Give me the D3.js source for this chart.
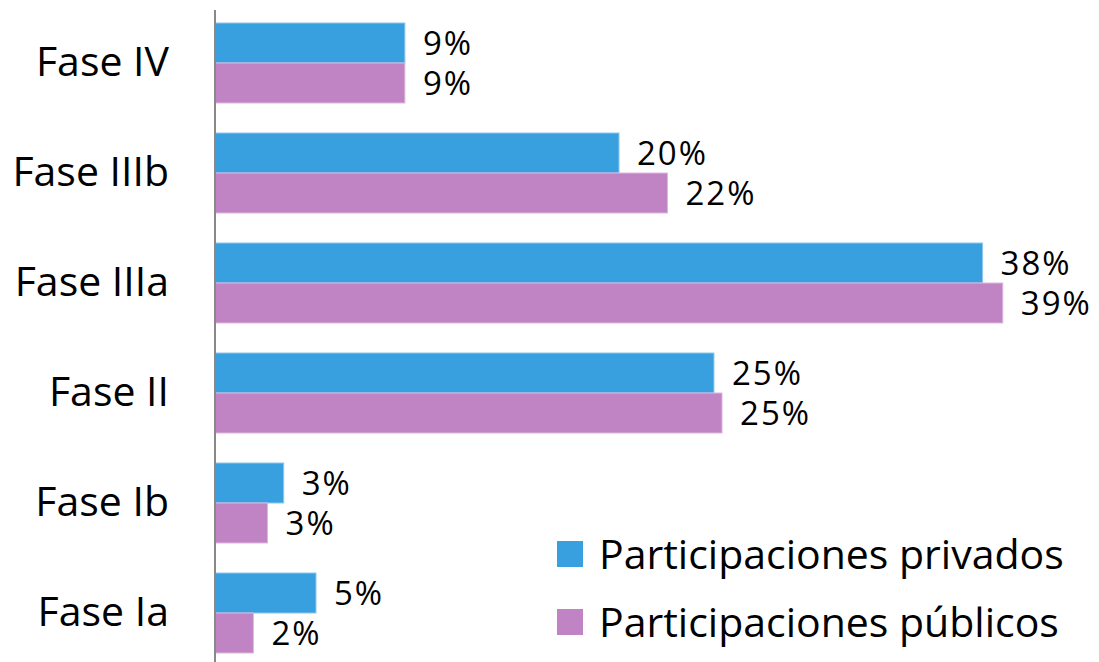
<!DOCTYPE html>
<html>
<head>
<meta charset="utf-8">
<script src="https://cdn.jsdelivr.net/npm/d3@7"></script>
<style>
  body { margin: 0; background: #fff; }
  text { font-family: "Open Sans", sans-serif; fill: #000; }
</style>
</head>
<body>
<div id="chart-area"></div>
<script>
const canvas_width = 1099;
const canvas_height = 662;

const categories = ['Fase IV', 'Fase IIIb', 'Fase IIIa', 'Fase II', 'Fase Ib', 'Fase Ia'];
const series_names = ['Participaciones privados', 'Participaciones públicos'];
const privados = [0.094, 0.200, 0.380, 0.247, 0.034, 0.050];
const publicos = [0.094, 0.224, 0.390, 0.251, 0.026, 0.019];
const colors = ['#38a0de', '#c084c4'];

const x0 = 215;

let svg = d3.select('#chart-area').append('svg')
    .attr('width', canvas_width)
    .attr('height', canvas_height);

let x = d3.scaleLinear()
    .domain([0, 0.4])
    .range([x0, x0 + 808]);

let y = d3.scaleBand()
    .domain(categories)
    .range([8, 668])
    .paddingInner(30 / 110)
    .paddingOuter(15 / 110);

let ySub = d3.scaleBand()
    .domain([0, 1])
    .range([0, y.bandwidth()]);

let rows = categories.map((c, i) => ({ cat: c, values: [privados[i], publicos[i]] }));

let groups = svg.selectAll('g.row').data(rows).enter().append('g')
    .attr('class', 'row')
    .attr('transform', (d) => `translate(0, ${y(d.cat)})`);

groups.selectAll('rect').data((d) => d.values).enter().append('rect')
    .attr('x', x(0))
    .attr('y', (d, i) => ySub(i))
    .attr('width', (d) => x(d) - x(0))
    .attr('height', ySub.bandwidth())
    .attr('fill', (d, i) => colors[i])
    .attr('stroke', (d, i) => i === 0 ? '#8cc6ee' : '#dcb8de')
    .attr('stroke-width', 1);

groups.selectAll('text.value').data((d) => d.values).enter().append('text')
    .attr('class', 'value')
    .attr('x', (d) => x(d) + 18)
    .attr('y', (d, i) => ySub(i) + ySub.bandwidth() / 2)
    .attr('dy', '0.36em')
    .attr('font-size', '33px')
    .attr('letter-spacing', '2px')
    .text((d) => `${Math.round(d * 100)}%`);

// category axis
let leftAxis = d3.axisLeft(y).tickSize(0).tickPadding(46);

let axisG = svg.append('g')
    .attr('transform', `translate(${x0}, 0)`)
    .call(leftAxis);

axisG.select('.domain')
    .attr('d', `M0,10V${canvas_height}`)
    .attr('stroke', '#898989')
    .attr('stroke-width', 2);

axisG.selectAll('text')
    .attr('font-size', '41px')
    .attr('font-family', '"Open Sans", sans-serif')
    .attr('fill', '#000');

// legend
let legend = svg.append('g').attr('transform', 'translate(557, 541)');

let items = legend.selectAll('g').data(series_names).enter().append('g')
    .attr('transform', (d, i) => `translate(0, ${i * 68})`);

items.append('rect')
    .attr('width', 26)
    .attr('height', 26)
    .attr('fill', (d, i) => colors[i]);

items.append('text')
    .attr('x', 42)
    .attr('y', 13)
    .attr('dy', '0.36em')
    .attr('font-size', '41px')
    .text((d) => d);
</script>
</body>
</html>
